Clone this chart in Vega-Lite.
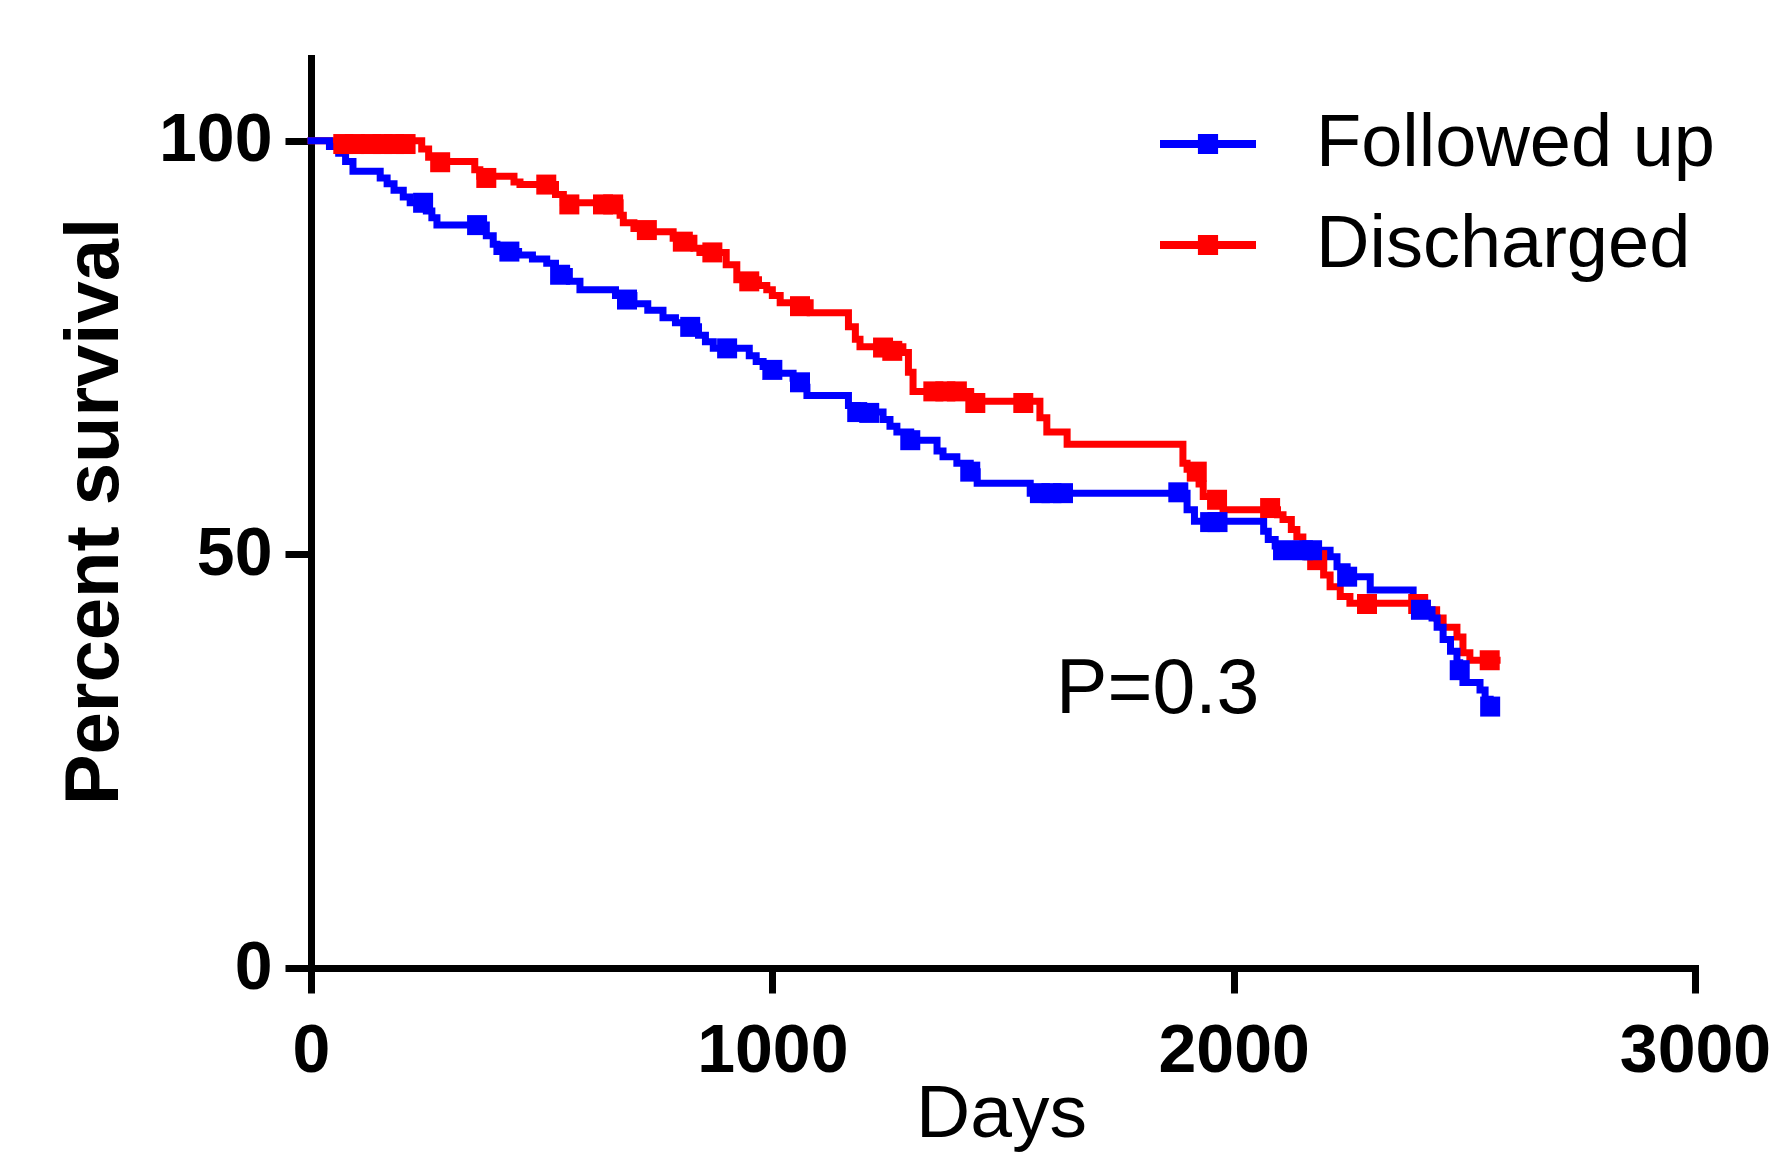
{
  "$schema": "https://vega.github.io/schema/vega-lite/v6.json",
  "width": 1384,
  "height": 910,
  "autosize": {"type": "none"},
  "padding": {"left": 311, "top": 58, "right": 77, "bottom": 207},
  "background": "white",
  "config": {"view": {"stroke": null}, "font": "Liberation Sans"},
  "datasets": {
    "steps": [
      {"group":"Discharged","day":0,"surv":100},{"group":"Discharged","day":229,"surv":100},{"group":"Discharged","day":240,"surv":99},{"group":"Discharged","day":255,"surv":98},{"group":"Discharged","day":273,"surv":97.5},{"group":"Discharged","day":355,"surv":96.5},{"group":"Discharged","day":366,"surv":95.7},{"group":"Discharged","day":440,"surv":95},{"group":"Discharged","day":453,"surv":94.7},{"group":"Discharged","day":530,"surv":93.5},{"group":"Discharged","day":547,"surv":92.5},{"group":"Discharged","day":670,"surv":91},{"group":"Discharged","day":677,"surv":90.1},{"group":"Discharged","day":700,"surv":89.4},{"group":"Discharged","day":740,"surv":89},{"group":"Discharged","day":785,"surv":88.2},{"group":"Discharged","day":830,"surv":87},{"group":"Discharged","day":843,"surv":86.5},{"group":"Discharged","day":900,"surv":85},{"group":"Discharged","day":923,"surv":83.2},{"group":"Discharged","day":970,"surv":82.5},{"group":"Discharged","day":988,"surv":82},{"group":"Discharged","day":1000,"surv":81.3},{"group":"Discharged","day":1017,"surv":80.4},{"group":"Discharged","day":1082,"surv":79.2},{"group":"Discharged","day":1165,"surv":77.5},{"group":"Discharged","day":1180,"surv":76},{"group":"Discharged","day":1190,"surv":75.1},{"group":"Discharged","day":1283,"surv":74.4},{"group":"Discharged","day":1295,"surv":72},{"group":"Discharged","day":1305,"surv":69.7},{"group":"Discharged","day":1430,"surv":68.5},{"group":"Discharged","day":1580,"surv":66.5},{"group":"Discharged","day":1595,"surv":64.8},{"group":"Discharged","day":1639,"surv":63.3},{"group":"Discharged","day":1890,"surv":61},{"group":"Discharged","day":1899,"surv":60.3},{"group":"Discharged","day":1925,"surv":58.5},{"group":"Discharged","day":1934,"surv":57},{"group":"Discharged","day":1977,"surv":55.4},{"group":"Discharged","day":2095,"surv":54.8},{"group":"Discharged","day":2107,"surv":54.2},{"group":"Discharged","day":2125,"surv":53},{"group":"Discharged","day":2137,"surv":52.1},{"group":"Discharged","day":2150,"surv":50.8},{"group":"Discharged","day":2159,"surv":49.7},{"group":"Discharged","day":2195,"surv":47.5},{"group":"Discharged","day":2209,"surv":46.1},{"group":"Discharged","day":2231,"surv":44.9},{"group":"Discharged","day":2252,"surv":44.1},{"group":"Discharged","day":2419,"surv":43.3},{"group":"Discharged","day":2440,"surv":42.3},{"group":"Discharged","day":2454,"surv":41.2},{"group":"Discharged","day":2484,"surv":40},{"group":"Discharged","day":2497,"surv":38.1},{"group":"Discharged","day":2512,"surv":37.2},{"group":"Discharged","day":2571,"surv":37.2},
      {"group":"Followed up","day":0,"surv":100},{"group":"Followed up","day":40,"surv":99.3},{"group":"Followed up","day":60,"surv":98.5},{"group":"Followed up","day":75,"surv":97.5},{"group":"Followed up","day":91,"surv":96.3},{"group":"Followed up","day":150,"surv":95.5},{"group":"Followed up","day":165,"surv":94.8},{"group":"Followed up","day":180,"surv":94},{"group":"Followed up","day":200,"surv":93.2},{"group":"Followed up","day":215,"surv":92.5},{"group":"Followed up","day":250,"surv":91.5},{"group":"Followed up","day":262,"surv":90.7},{"group":"Followed up","day":273,"surv":89.8},{"group":"Followed up","day":380,"surv":88.5},{"group":"Followed up","day":395,"surv":87.5},{"group":"Followed up","day":403,"surv":86.6},{"group":"Followed up","day":450,"surv":86.2},{"group":"Followed up","day":480,"surv":85.7},{"group":"Followed up","day":511,"surv":85.2},{"group":"Followed up","day":530,"surv":84.2},{"group":"Followed up","day":560,"surv":83},{"group":"Followed up","day":583,"surv":82},{"group":"Followed up","day":660,"surv":81.3},{"group":"Followed up","day":700,"surv":80.3},{"group":"Followed up","day":730,"surv":79.5},{"group":"Followed up","day":763,"surv":78.6},{"group":"Followed up","day":790,"surv":78},{"group":"Followed up","day":822,"surv":77.5},{"group":"Followed up","day":840,"surv":76.5},{"group":"Followed up","day":855,"surv":75.7},{"group":"Followed up","day":872,"surv":74.9},{"group":"Followed up","day":950,"surv":74},{"group":"Followed up","day":965,"surv":73.3},{"group":"Followed up","day":980,"surv":72.7},{"group":"Followed up","day":1010,"surv":71.9},{"group":"Followed up","day":1045,"surv":71.3},{"group":"Followed up","day":1062,"surv":70.2},{"group":"Followed up","day":1075,"surv":69.2},{"group":"Followed up","day":1165,"surv":68},{"group":"Followed up","day":1184,"surv":67.2},{"group":"Followed up","day":1240,"surv":66.3},{"group":"Followed up","day":1255,"surv":65.5},{"group":"Followed up","day":1270,"surv":64.8},{"group":"Followed up","day":1300,"surv":63.8},{"group":"Followed up","day":1357,"surv":62.5},{"group":"Followed up","day":1370,"surv":61.8},{"group":"Followed up","day":1400,"surv":61},{"group":"Followed up","day":1429,"surv":60},{"group":"Followed up","day":1444,"surv":58.6},{"group":"Followed up","day":1559,"surv":57.4},{"group":"Followed up","day":1899,"surv":55.4},{"group":"Followed up","day":1915,"surv":54},{"group":"Followed up","day":2065,"surv":52.8},{"group":"Followed up","day":2075,"surv":51.8},{"group":"Followed up","day":2090,"surv":51},{"group":"Followed up","day":2107,"surv":50.5},{"group":"Followed up","day":2209,"surv":49.7},{"group":"Followed up","day":2224,"surv":48.5},{"group":"Followed up","day":2246,"surv":47.3},{"group":"Followed up","day":2296,"surv":45.7},{"group":"Followed up","day":2389,"surv":43.3},{"group":"Followed up","day":2430,"surv":42.3},{"group":"Followed up","day":2441,"surv":41.2},{"group":"Followed up","day":2454,"surv":39.7},{"group":"Followed up","day":2470,"surv":38.3},{"group":"Followed up","day":2484,"surv":36.9},{"group":"Followed up","day":2490,"surv":35.8},{"group":"Followed up","day":2497,"surv":34.5},{"group":"Followed up","day":2534,"surv":33.6},{"group":"Followed up","day":2545,"surv":32.5},{"group":"Followed up","day":2556,"surv":31.6}
    ],
    "censored": [
      {"group":"Discharged","day":70,"surv":99.6},{"group":"Discharged","day":95,"surv":99.6},{"group":"Discharged","day":130,"surv":99.6},{"group":"Discharged","day":155,"surv":99.6},{"group":"Discharged","day":180,"surv":99.6},{"group":"Discharged","day":205,"surv":99.6},{"group":"Discharged","day":280,"surv":97.4},{"group":"Discharged","day":380,"surv":95.5},{"group":"Discharged","day":510,"surv":94.7},{"group":"Discharged","day":560,"surv":92.3},{"group":"Discharged","day":633,"surv":92.3},{"group":"Discharged","day":655,"surv":92.3},{"group":"Discharged","day":728,"surv":89.2},{"group":"Discharged","day":806,"surv":87.8},{"group":"Discharged","day":870,"surv":86.5},{"group":"Discharged","day":950,"surv":83},{"group":"Discharged","day":1060,"surv":80},{"group":"Discharged","day":1240,"surv":75},{"group":"Discharged","day":1260,"surv":74.6},{"group":"Discharged","day":1349,"surv":69.7},{"group":"Discharged","day":1375,"surv":69.7},{"group":"Discharged","day":1400,"surv":69.7},{"group":"Discharged","day":1440,"surv":68.3},{"group":"Discharged","day":1544,"surv":68.3},{"group":"Discharged","day":1920,"surv":60},{"group":"Discharged","day":1964,"surv":56.6},{"group":"Discharged","day":2079,"surv":55.6},{"group":"Discharged","day":2181,"surv":49.3},{"group":"Discharged","day":2289,"surv":44},{"group":"Discharged","day":2400,"surv":44},{"group":"Discharged","day":2555,"surv":37.2},
      {"group":"Followed up","day":243,"surv":92.5},{"group":"Followed up","day":360,"surv":89.8},{"group":"Followed up","day":430,"surv":86.6},{"group":"Followed up","day":540,"surv":83.8},{"group":"Followed up","day":685,"surv":80.8},{"group":"Followed up","day":822,"surv":77.5},{"group":"Followed up","day":902,"surv":74.9},{"group":"Followed up","day":1000,"surv":72.3},{"group":"Followed up","day":1060,"surv":70.8},{"group":"Followed up","day":1184,"surv":67.2},{"group":"Followed up","day":1210,"surv":67.1},{"group":"Followed up","day":1299,"surv":63.8},{"group":"Followed up","day":1429,"surv":60},{"group":"Followed up","day":1580,"surv":57.4},{"group":"Followed up","day":1605,"surv":57.4},{"group":"Followed up","day":1630,"surv":57.4},{"group":"Followed up","day":1880,"surv":57.5},{"group":"Followed up","day":1949,"surv":53.9},{"group":"Followed up","day":1965,"surv":53.9},{"group":"Followed up","day":2107,"surv":50.5},{"group":"Followed up","day":2150,"surv":50.5},{"group":"Followed up","day":2170,"surv":50.5},{"group":"Followed up","day":2246,"surv":47.3},{"group":"Followed up","day":2406,"surv":43.3},{"group":"Followed up","day":2490,"surv":36},{"group":"Followed up","day":2556,"surv":31.6}
    ],
    "annot": [{"day": 1615, "surv": 30.8, "label": "P=0.3"}]
  },
  "layer": [
    {
      "data": {"name": "steps"},
      "mark": {"type": "line", "interpolate": "step-after", "strokeWidth": 7, "strokeCap": "square"},
      "encoding": {
        "x": {"field": "day", "type": "quantitative", "scale": {"domain": [0, 3000], "nice": false},
          "axis": {"values": [0, 1000, 2000, 3000], "format": "d", "title": "Days", "grid": false,
            "domainWidth": 7, "domainColor": "black", "domainCap": "square", "tickWidth": 7, "tickColor": "black", "tickSize": 25,
            "labelFontSize": 68, "labelFontWeight": "bold", "labelColor": "black", "labelPadding": 24, "labelFont": "Liberation Sans",
            "labelFlush": false, "labelOverlap": false,
            "titleFontSize": 75, "titleFontWeight": "normal", "titleColor": "black", "titleFont": "Liberation Sans",
            "titleX": 690, "titleY": 168, "titleBaseline": "alphabetic", "titleAlign": "center"}},
        "y": {"field": "surv", "type": "quantitative", "scale": {"domain": [0, 110], "nice": false},
          "axis": {"values": [0, 50, 100], "title": "Percent survival", "grid": false,
            "domainWidth": 7, "domainColor": "black", "domainCap": "square", "tickWidth": 7, "tickColor": "black", "tickSize": 26,
            "labelFontSize": 68, "labelFontWeight": "bold", "labelColor": "black", "labelPadding": 13, "labelFont": "Liberation Sans",
            "labelFlush": false, "labelOverlap": false,
            "titleFontSize": 76, "titleFontWeight": "bold", "titleColor": "black", "titleFont": "Liberation Sans",
            "titleAngle": 270, "titleX": -194, "titleY": 453, "titleBaseline": "alphabetic", "titleAlign": "center"}},
        "color": {"field": "group", "type": "nominal",
          "scale": {"domain": ["Followed up", "Discharged"], "range": ["#0000ff", "#ff0000"]},
          "legend": {"orient": "none", "legendX": 849, "legendY": 38, "title": null, "padding": 0,
            "labelFontSize": 74, "labelFont": "Liberation Sans", "labelColor": "black", "labelOffset": 60, "labelLimit": 0,
            "symbolType": "M-1,-0.083H1V0.083H-1Z M-0.21,-0.21H0.21V0.21H-0.21Z", "symbolSize": 9216,
            "symbolStrokeWidth": 0, "rowPadding": 16,
            "encode": {"symbols": {"update": {"fill": {"scale": "color", "field": "value"}, "opacity": {"value": 1}, "strokeWidth": {"value": 0}}}}}
        }
      }
    },
    {
      "data": {"name": "censored"},
      "mark": {"type": "point", "shape": "square", "filled": true, "size": 400, "opacity": 1},
      "encoding": {
        "x": {"field": "day", "type": "quantitative"},
        "y": {"field": "surv", "type": "quantitative"},
        "color": {"field": "group", "type": "nominal"}
      }
    },
    {
      "data": {"name": "annot"},
      "mark": {"type": "text", "align": "left", "baseline": "alphabetic", "fontSize": 77, "font": "Liberation Sans", "color": "black"},
      "encoding": {
        "x": {"field": "day", "type": "quantitative"},
        "y": {"field": "surv", "type": "quantitative"},
        "text": {"field": "label"}
      }
    }
  ]
}
